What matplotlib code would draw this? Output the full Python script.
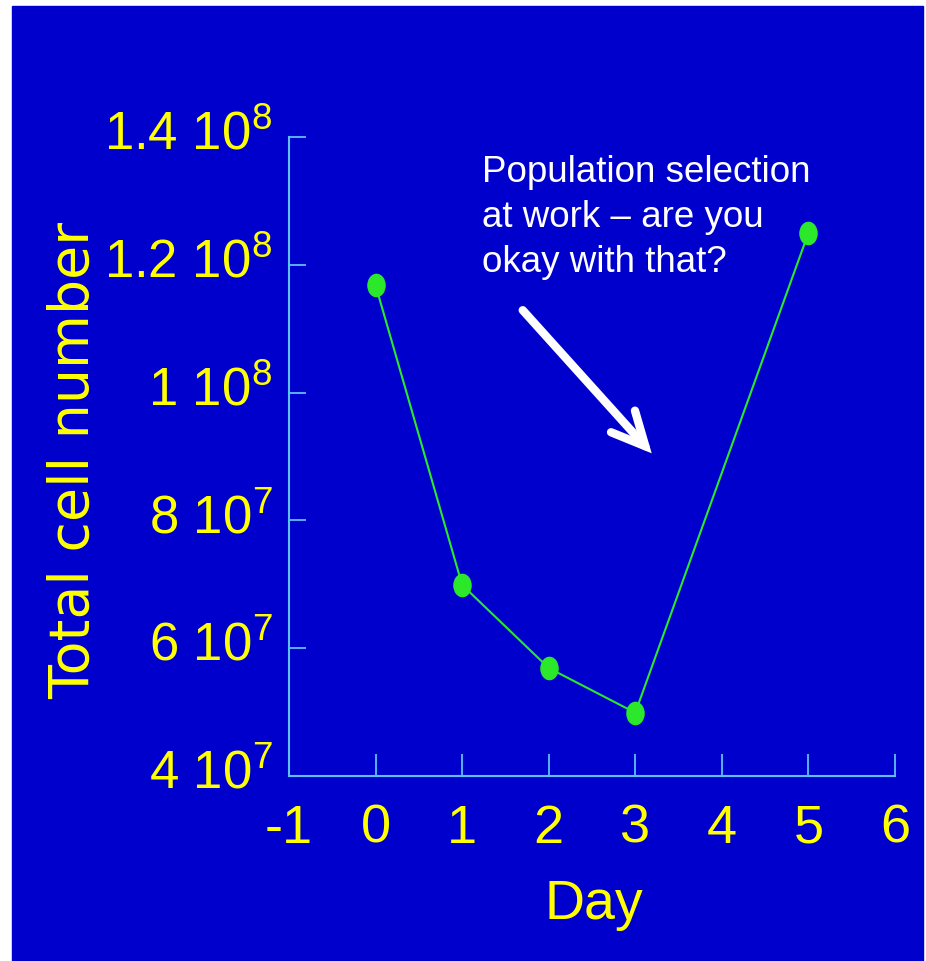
import matplotlib.pyplot as plt
import matplotlib.patches as mpatches
from matplotlib.path import Path
from matplotlib.transforms import Affine2D, ScaledTranslation

# Total cell count per day
days = [0, 1, 2, 3, 5]
cells = [1.168e8, 6.99e7, 5.69e7, 4.99e7, 1.25e8]

xticks = [-1, 0, 1, 2, 3, 4, 5, 6]
xtick_labels = ['-1', '0', '1', '2', '3', '4', '5', '6']
yticks = [4e7, 6e7, 8e7, 1e8, 1.2e8, 1.4e8]
ytick_labels = [r'$\mathrm{4\ 10^{7}}$', r'$\mathrm{6\ 10^{7}}$', r'$\mathrm{8\ 10^{7}}$',
                r'$\mathrm{1\ 10^{8}}$', r'$\mathrm{1.2\ 10^{8}}$', r'$\mathrm{1.4\ 10^{8}}$']

note = 'Population selection\nat work \u2013 are you\nokay with that?'

BLUE = '#0000CC'
YELLOW = '#FFFF00'
GREEN = '#2BE82B'
AXCOL = '#5CC0FF'

plt.rcParams['font.family'] = ['Liberation Sans', 'DejaVu Sans']
plt.rcParams['mathtext.fontset'] = 'custom'
plt.rcParams['mathtext.rm'] = 'Liberation Sans'
plt.rcParams['mathtext.it'] = 'Liberation Sans'
plt.rcParams['mathtext.bf'] = 'Liberation Sans'

fig = plt.figure(figsize=(9.26, 9.61), dpi=100)
fig.patch.set_facecolor('white')
# blue panel behind everything, leaving a thin white margin top/left
fig.patches.append(mpatches.Rectangle((12 / 926, 0), 1 - 15 / 926, 1 - 6 / 961,
                                      transform=fig.transFigure, color=BLUE, zorder=-10))

ax = fig.add_axes([0.3121, 0.1925, 0.6544, 0.6649])
ax.set_zorder(1)
ax.patch.set_alpha(0)

# slightly tall ellipse markers
ell = Path.unit_circle().transformed(Affine2D().scale(0.77, 1.0))
ax.plot(days, cells, color=GREEN, lw=1.5, marker=ell, ms=16,
        mfc=GREEN, mec=GREEN, zorder=3)

ax.set_xlim(-1, 6)
ax.set_ylim(4e7, 1.4e8)
ax.set_xticks(xticks)
ax.set_xticklabels(xtick_labels)
ax.set_yticks(yticks)
ax.set_yticklabels(ytick_labels)

for s in ['top', 'right']:
    ax.spines[s].set_visible(False)
for s in ['left', 'bottom']:
    ax.spines[s].set_color(AXCOL)
    ax.spines[s].set_linewidth(1.5)

ax.tick_params(axis='x', direction='in', length=16, width=1.3, color=AXCOL,
               labelcolor=YELLOW, labelsize=39, pad=20)
ax.tick_params(axis='y', direction='in', length=12, width=1.3, color=AXCOL,
               labelcolor=YELLOW, labelsize=38, pad=12)

# nudge the y labels up a little so the digits sit just above each tick
nudge = ScaledTranslation(0, 5 / 72, fig.dpi_scale_trans)
for lab in ax.get_yticklabels():
    lab.set_transform(lab.get_transform() + nudge)

ax.set_xlabel('Day', color=YELLOW, fontsize=40)
ax.xaxis.set_label_coords(0.503, -0.161)
ax.set_ylabel('Total cell number', color=YELLOW, fontsize=40, fontfamily='DejaVu Sans')
ax.yaxis.set_label_coords(-0.31, 0.4945)

ax.text(0.3185, 0.972, note, transform=ax.transAxes, ha='left', va='top',
        color='white', fontsize=26.5, linespacing=1.38)

ax.annotate('', xy=(3.19, 9.05e7), xytext=(1.70, 1.129e8),
            arrowprops=dict(arrowstyle='->,head_length=1.2,head_width=0.58',
                            mutation_scale=20, color='white', lw=6,
                            shrinkA=0, shrinkB=0, capstyle='round', joinstyle='miter'))

fig.savefig('out.png', dpi=100, facecolor='white')
